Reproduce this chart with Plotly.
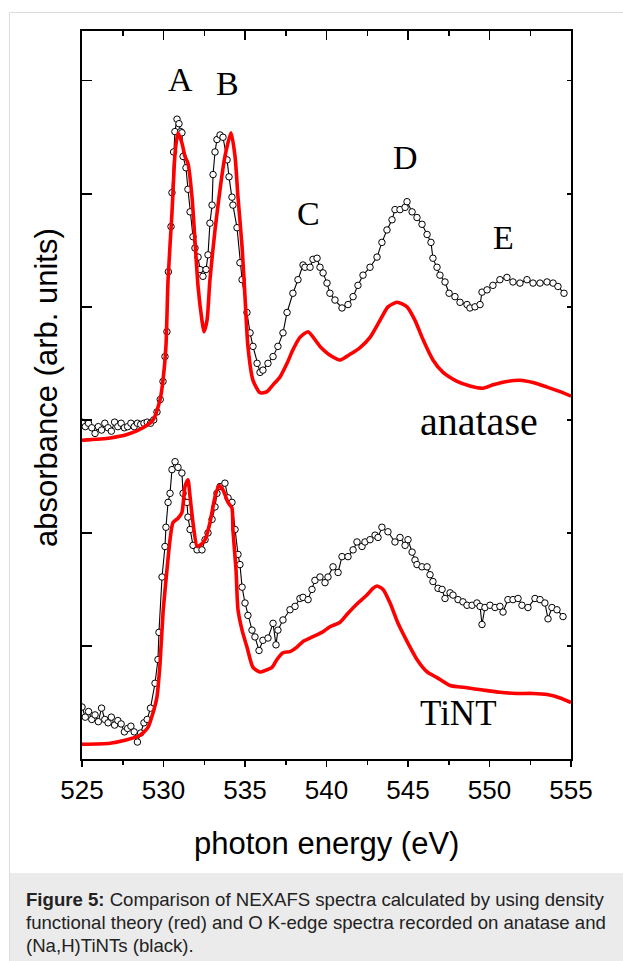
import plotly.graph_objects as go

# ---------------- data ----------------
# anatase, experiment (black open circles)
ana_exp_e = [525.0, 525.2, 525.4, 525.6, 525.8, 526.0, 526.2, 526.4, 526.6, 526.8,
             527.0, 527.2, 527.4, 527.6, 527.8, 528.0, 528.2, 528.4, 528.6, 528.8,
             529.0, 529.2, 529.4, 529.6, 529.8, 529.97, 530.09, 530.21, 530.30, 530.46,
             530.52, 530.62, 530.70, 530.83, 530.95, 531.05, 531.13, 531.20, 531.38, 531.50,
             531.63, 531.81, 531.93, 532.12, 532.24, 532.42, 532.61, 532.73, 532.85, 532.98,
             533.04, 533.16, 533.28, 533.47, 533.65, 533.90, 534.02, 534.20, 534.26, 534.51,
             534.69, 534.82, 535.12, 535.31, 535.49, 535.74, 535.92, 536.10, 536.41, 536.72,
             537.02, 537.33, 537.58, 537.94, 538.25, 538.56, 538.68, 538.99, 539.17, 539.42,
             539.60, 539.79, 540.03, 540.21, 540.52, 540.95, 541.32, 541.63, 541.93, 542.24,
             542.67, 543.10, 543.40, 543.71, 544.02, 544.20, 544.51, 544.82, 544.94, 545.25,
             545.55, 545.86, 546.17, 546.41, 546.53, 546.78, 546.96, 547.27, 547.52, 547.88,
             548.19, 548.62, 548.80, 549.11, 549.42, 549.54, 549.85, 550.21, 550.64, 551.07,
             551.44, 551.87, 552.30, 552.67, 553.10, 553.53, 553.90, 554.20, 554.57]
ana_exp_a = [2.98, 2.94, 2.97, 2.93, 2.88, 2.94, 2.91, 2.97, 2.93, 2.90,
             2.98, 2.94, 2.97, 2.93, 2.94, 2.97, 2.94, 2.97, 2.96, 2.97,
             2.98, 2.97, 3.00, 3.07, 3.18, 3.34, 3.56, 3.78, 4.31, 4.71,
             5.01, 5.37, 5.55, 5.66, 5.62, 5.55, 5.54, 5.33, 5.23, 5.04,
             4.84, 4.62, 4.52, 4.44, 4.33, 4.27, 4.33, 4.46, 4.74, 4.90,
             5.17, 5.37, 5.48, 5.52, 5.50, 5.30, 5.15, 4.97, 4.90, 4.70,
             4.39, 4.24, 3.95, 3.77, 3.65, 3.50, 3.42, 3.44, 3.50, 3.56,
             3.65, 3.77, 3.95, 4.12, 4.24, 4.37, 4.35, 4.35, 4.42, 4.43,
             4.35, 4.30, 4.21, 4.12, 4.06, 3.99, 4.02, 4.09, 4.19, 4.28,
             4.35, 4.44, 4.57, 4.68, 4.77, 4.86, 4.86, 4.88, 4.93, 4.84,
             4.79, 4.73, 4.64, 4.57, 4.43, 4.35, 4.28, 4.22, 4.12, 4.09,
             4.04, 4.02, 3.99, 4.00, 4.02, 4.13, 4.15, 4.19, 4.24, 4.26,
             4.22, 4.21, 4.24, 4.21, 4.21, 4.22, 4.21, 4.18, 4.12]

# anatase, DFT calculation (red line)
ana_calc_e = [525.0, 526.72, 527.76, 528.74, 529.36, 529.79, 529.97, 530.15, 530.28, 530.52,
              530.71, 530.89, 531.13, 531.32, 531.50, 531.75, 531.93, 532.12, 532.36, 532.48,
              532.67, 532.85, 533.16, 533.47, 533.77, 534.14, 534.39, 534.57, 534.82, 535.00,
              535.18, 535.49, 535.92, 536.35, 536.72, 537.15, 537.58, 537.94, 538.37, 538.87,
              539.60, 540.34, 540.83, 541.44, 542.06, 542.67, 543.28, 543.77, 544.33, 544.94,
              545.43, 545.92, 546.53, 547.15, 548.01, 548.80, 549.60, 550.21, 551.07, 551.87,
              552.67, 553.53, 554.33, 555.0]
ana_calc_a = [2.82, 2.84, 2.87, 2.93, 3.00, 3.18, 3.35, 3.65, 4.24, 4.83,
              5.36, 5.54, 5.45, 5.33, 5.27, 4.97, 4.59, 4.18, 3.88, 3.78,
              3.88, 4.24, 4.68, 5.04, 5.33, 5.54, 5.33, 4.97, 4.53, 4.09,
              3.65, 3.35, 3.24, 3.25, 3.31, 3.38, 3.50, 3.62, 3.73, 3.78,
              3.65, 3.56, 3.53, 3.58, 3.64, 3.73, 3.88, 4.00, 4.04, 4.00,
              3.88, 3.71, 3.53, 3.42, 3.34, 3.30, 3.28, 3.31, 3.34, 3.35,
              3.33, 3.29, 3.25, 3.21]

# TiNT, experiment (black open circles)
tint_exp_e = [525.0, 525.2, 525.4, 525.6, 525.8, 526.0, 526.2, 526.4, 526.6, 526.8,
              527.0, 527.2, 527.4, 527.6, 527.8, 528.0, 528.2, 528.4, 528.6, 528.8,
              529.0, 529.2, 529.48, 529.66, 529.72, 529.91, 530.09, 530.15, 530.28, 530.40,
              530.52, 530.71, 530.89, 531.13, 531.20, 531.44, 531.50, 531.63, 531.81, 532.06,
              532.36, 532.55, 532.73, 532.98, 533.16, 533.28, 533.47, 533.77, 533.96, 534.20,
              534.39, 534.57, 534.69, 534.82, 535.00, 535.18, 535.43, 535.61, 535.86, 536.10,
              536.41, 536.72, 536.90, 537.02, 537.33, 537.76, 538.07, 538.37, 538.56, 538.87,
              539.11, 539.29, 539.60, 539.91, 540.09, 540.40, 540.71, 540.95, 541.32, 541.63,
              541.87, 542.18, 542.36, 542.67, 542.98, 543.16, 543.40, 543.77, 544.20, 544.51,
              544.82, 545.00, 545.25, 545.43, 545.55, 545.86, 546.17, 546.35, 546.53, 546.84,
              547.09, 547.27, 547.58, 547.76, 548.07, 548.37, 548.62, 548.93, 549.23, 549.42,
              549.54, 549.72, 550.03, 550.34, 550.64, 550.83, 551.13, 551.44, 551.75, 551.99,
              552.36, 552.79, 553.10, 553.40, 553.59, 553.83, 554.14, 554.51]
tint_exp_a = [0.46, 0.37, 0.42, 0.35, 0.39, 0.33, 0.45, 0.35, 0.32, 0.37,
              0.30, 0.34, 0.31, 0.24, 0.27, 0.29, 0.24, 0.15, 0.23, 0.32,
              0.35, 0.45, 0.67, 0.88, 1.12, 1.61, 1.88, 2.05, 2.27, 2.35,
              2.56, 2.63, 2.58, 2.53, 2.35, 2.27, 2.14, 2.03, 1.89, 1.85,
              1.85, 1.94, 2.00, 2.12, 2.23, 2.35, 2.41, 2.44, 2.31, 2.27,
              2.03, 1.81, 1.72, 1.52, 1.38, 1.27, 1.14, 1.08, 0.96, 1.05,
              1.07, 1.20, 1.01, 1.14, 1.23, 1.32, 1.35, 1.42, 1.43, 1.41,
              1.50, 1.58, 1.61, 1.56, 1.61, 1.70, 1.65, 1.79, 1.79, 1.85,
              1.92, 1.88, 1.92, 1.94, 1.98, 1.96, 2.05, 2.01, 1.92, 1.96,
              1.89, 1.94, 1.83, 1.76, 1.72, 1.70, 1.70, 1.63, 1.57, 1.51,
              1.50, 1.42, 1.47, 1.45, 1.41, 1.39, 1.36, 1.36, 1.38, 1.35,
              1.19, 1.34, 1.36, 1.34, 1.35, 1.30, 1.41, 1.41, 1.42, 1.36,
              1.34, 1.42, 1.41, 1.38, 1.24, 1.34, 1.32, 1.26]

# TiNT, DFT calculation (red line)
tint_calc_e = [525.0, 526.72, 527.76, 528.56, 529.05, 529.36, 529.60, 529.79, 529.97, 530.21,
               530.40, 530.58, 530.89, 531.13, 531.32, 531.50, 531.63, 531.81, 532.06, 532.24,
               532.55, 532.85, 533.16, 533.40, 533.65, 533.96, 534.20, 534.26, 534.45, 534.57,
               534.82, 535.12, 535.49, 535.92, 536.35, 536.66, 536.96, 537.33, 537.76, 538.19,
               538.56, 538.99, 539.72, 540.21, 540.83, 541.32, 541.93, 542.48, 542.85, 543.10,
               543.47, 543.90, 544.39, 544.94, 545.55, 546.17, 546.78, 547.58, 548.62, 549.60,
               550.64, 551.69, 552.67, 553.53, 554.33, 555.0]
tint_calc_a = [0.13, 0.14, 0.17, 0.21, 0.28, 0.41, 0.55, 0.85, 1.29, 1.67,
               1.94, 2.09, 2.13, 2.18, 2.41, 2.47, 2.32, 2.09, 1.88, 1.89,
               1.94, 2.09, 2.32, 2.42, 2.38, 2.27, 2.22, 2.03, 1.67, 1.32,
               1.14, 0.99, 0.81, 0.77, 0.79, 0.81, 0.88, 0.94, 0.95, 0.99,
               1.04, 1.07, 1.12, 1.17, 1.21, 1.29, 1.38, 1.45, 1.51, 1.53,
               1.50, 1.38, 1.20, 1.04, 0.88, 0.77, 0.72, 0.65, 0.63, 0.61,
               0.59, 0.58, 0.58, 0.57, 0.54, 0.50]

x_ticks = [525, 530, 535, 540, 545, 550, 555]
x_tick_labels = ["525", "530", "535", "540", "545", "550", "555"]

peak_labels = ["A", "B", "C", "D", "E"]
peak_x = [531.07, 533.90, 538.87, 544.82, 550.83]
peak_y = [6.01, 5.98, 4.83, 5.32, 4.61]

sample_labels = ["anatase", "TiNT"]
sample_x = [549.36, 548.07]
sample_y = [2.99, 0.40]
sample_sizes = [40, 35]

caption_lines = [
    "<b>Figure 5:</b> Comparison of NEXAFS spectra calculated by using density",
    "functional theory (red) and O K-edge spectra recorded on anatase and",
    "(Na,H)TiNTs (black).",
]

# ---------------- figure ----------------
X_RANGE = [525, 555]
Y_RANGE = [0, 6.44]

fig = go.Figure()

exp_style = dict(mode="lines+markers",
                 line=dict(color="black", width=1.1),
                 marker=dict(symbol="circle", size=6.5, color="white",
                             line=dict(color="black", width=1)),
                 hoverinfo="skip", showlegend=False)
calc_style = dict(mode="lines",
                  line=dict(color="#ff0000", width=3.6, shape="spline", smoothing=0.6),
                  hoverinfo="skip", showlegend=False)

fig.add_trace(go.Scatter(x=ana_exp_e, y=ana_exp_a, **exp_style))
fig.add_trace(go.Scatter(x=tint_exp_e, y=tint_exp_a, **exp_style))
fig.add_trace(go.Scatter(x=ana_calc_e, y=ana_calc_a, **calc_style))
fig.add_trace(go.Scatter(x=tint_calc_e, y=tint_calc_a, **calc_style))
# empty trace so the mirrored (top/right) axes get drawn
fig.add_trace(go.Scatter(x=[], y=[], xaxis="x2", yaxis="y2", showlegend=False,
                         hoverinfo="skip"))

tickfont = dict(family="Liberation Sans, Arial, sans-serif", size=26, color="black")

fig.update_layout(
    width=623, height=961,
    margin=dict(l=82, r=52, t=31, b=202),
    paper_bgcolor="white", plot_bgcolor="white",
    xaxis=dict(range=X_RANGE, tickmode="array", tickvals=x_ticks, ticktext=x_tick_labels,
               ticks="outside", ticklen=6, tickwidth=1.5, tickcolor="black",
               minor=dict(dtick=2.5, tick0=525, ticks="outside", ticklen=4,
                          tickwidth=1.5, tickcolor="black", showgrid=False),
               showline=True, linewidth=2, linecolor="black", mirror=False,
               showgrid=False, zeroline=False, tickfont=tickfont,
               ticklabelstandoff=1),
    xaxis2=dict(range=X_RANGE, overlaying="x", side="top", anchor="y2",
                tickmode="array", tickvals=x_ticks, showticklabels=False,
                ticks="inside", ticklen=9, tickwidth=1.5, tickcolor="black",
                minor=dict(dtick=2.5, tick0=525, ticks="inside", ticklen=5,
                           tickwidth=1.5, tickcolor="black", showgrid=False),
                showline=True, linewidth=2, linecolor="black",
                showgrid=False, zeroline=False),
    yaxis=dict(range=Y_RANGE, dtick=1, tick0=0, ticks="inside", ticklen=10,
               tickwidth=1.5, tickcolor="black", showticklabels=False,
               showline=True, linewidth=2, linecolor="black",
               showgrid=False, zeroline=False),
    yaxis2=dict(range=Y_RANGE, overlaying="y", side="right", anchor="x2",
                dtick=1, tick0=0, ticks="inside", ticklen=4, tickwidth=1.5,
                tickcolor="black", showticklabels=False,
                showline=True, linewidth=2, linecolor="black",
                showgrid=False, zeroline=False),
)

annotations = []
for t, x, y in zip(peak_labels, peak_x, peak_y):
    annotations.append(dict(text=t, x=x, y=y, xref="x", yref="y", showarrow=False,
                            xanchor="center", yanchor="middle",
                            font=dict(family="Liberation Serif, Times New Roman, serif",
                                      size=34, color="black")))
for t, x, y, s in zip(sample_labels, sample_x, sample_y, sample_sizes):
    annotations.append(dict(text=t, x=x, y=y, xref="x", yref="y", showarrow=False,
                            xanchor="center", yanchor="middle",
                            font=dict(family="Liberation Serif, Times New Roman, serif",
                                      size=s, color="black")))

# axis titles
PW, PH = 489.0, 728.0  # plot width / height in px
def px_x(px):
    return (px - 82) / PW
def px_y(py):
    return (759 - py) / PH

annotations.append(dict(text="photon energy (eV)", x=px_x(326), y=px_y(843),
                        xref="paper", yref="paper", showarrow=False,
                        xanchor="center", yanchor="middle",
                        font=dict(family="Liberation Sans, Arial, sans-serif", size=31,
                                  color="black")))
annotations.append(dict(text="absorbance (arb. units)", x=px_x(46), y=px_y(388),
                        xref="paper", yref="paper", showarrow=False, textangle=-90,
                        xanchor="center", yanchor="middle",
                        font=dict(family="Liberation Sans, Arial, sans-serif", size=31,
                                  color="black")))

# caption
for line, py in zip(caption_lines, [899, 922, 945]):
    annotations.append(dict(text=line, x=px_x(24), y=px_y(py), xref="paper", yref="paper",
                            showarrow=False, xanchor="left", yanchor="middle",
                            font=dict(family="Liberation Sans, Arial, sans-serif",
                                      size=18.6, color="#222222")))
fig.update_layout(annotations=annotations)

# frame and caption box
shapes = [
    dict(type="rect", xref="paper", yref="paper", x0=px_x(9.5), x1=px_x(640),
         y0=px_y(980), y1=px_y(873), fillcolor="#ebebeb", line=dict(width=0),
         layer="below"),
    dict(type="line", xref="paper", yref="paper", x0=px_x(9.5), x1=px_x(9.5),
         y0=px_y(12.5), y1=px_y(980), line=dict(color="#dcdcdc", width=1)),
    dict(type="line", xref="paper", yref="paper", x0=px_x(9.5), x1=px_x(640),
         y0=px_y(12.5), y1=px_y(12.5), line=dict(color="#dcdcdc", width=1)),
]
fig.update_layout(shapes=shapes)

fig.write_html("out.html",
               config={"displayModeBar": False, "staticPlot": True},
               post_script="document.body.style.margin='0px';"
                           "document.body.style.overflow='hidden';")
